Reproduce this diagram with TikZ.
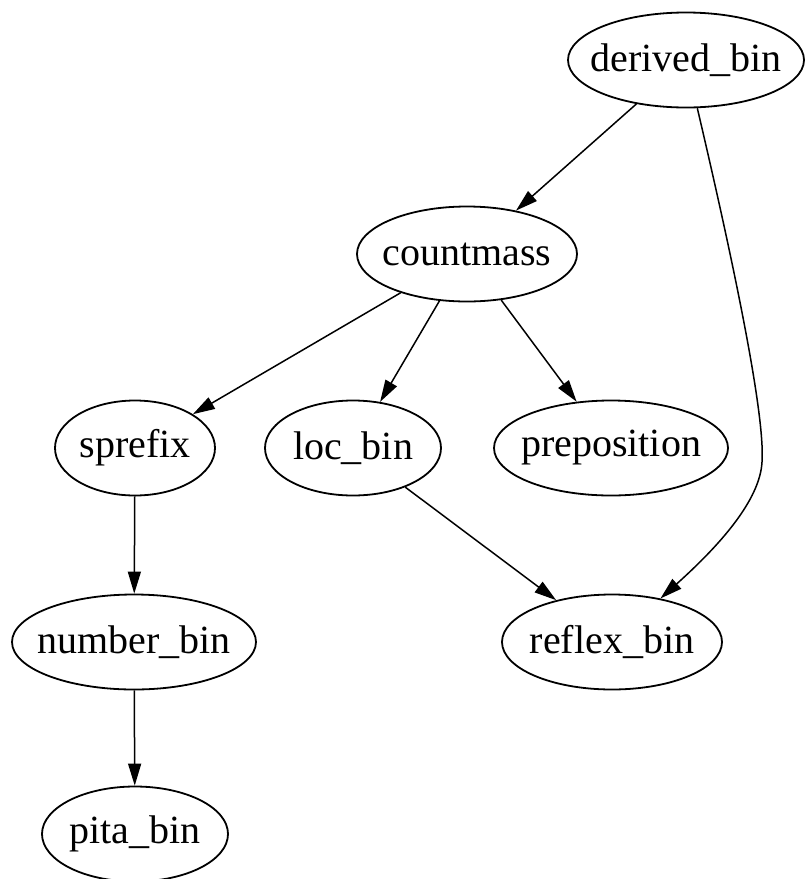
\documentclass[tikz,border=0pt]{standalone}
\usepackage{fontspec}
\setmainfont{Liberation Serif}
\usetikzlibrary{shapes.geometric,arrows.meta}
% label boxed to zero width so the ellipse size is set by minimum width alone
\newcommand\blab[1]{\makebox[0pt]{#1}}
\begin{document}
\begin{tikzpicture}[x=1pt,y=-1pt,
  bin/.style={ellipse,draw,line width=1.8pt,inner sep=0pt,minimum height=95pt,
    font=\fontsize{40}{48}\selectfont},
  dep/.style={line width=1.5pt,-{Triangle[length=22pt,width=13pt]}}]
\useasboundingbox[fill=white] (0,0) rectangle (806,879);

% nodes
\node[bin,minimum width=236pt] (derived) at (686,60)  {\blab{derived\_bin}};
\node[bin,minimum width=220pt] (count)   at (467,254) {\blab{countmass}};
\node[bin,minimum width=160pt] (sprefix) at (135,448) {\blab{sprefix}};
\node[bin,minimum width=176pt] (loc)     at (353,448) {\blab{loc\_bin}};
\node[bin,minimum width=234pt] (prep)    at (611,448) {\blab{preposition}};
\node[bin,minimum width=244pt] (number)  at (134,642) {\blab{number\_bin}};
\node[bin,minimum width=220pt] (reflex)  at (612,642) {\blab{reflex\_bin}};
\node[bin,minimum width=186pt] (pita)    at (135,834) {\blab{pita\_bin}};

\coordinate (bend) at (762,462);

% edges
\draw[dep] (derived) -- (count);
\draw[dep] (count) -- (sprefix);
\draw[dep] (count) -- (loc);
\draw[dep] (count) -- (prep);
\draw[dep] (sprefix) -- (number);
\draw[dep] (number) -- (pita);
\draw[dep] (loc) -- (reflex);
\draw[dep] (derived) .. controls (740,290) and (765,420) .. (bend)
                     .. controls (760,500) and (720,545) .. (reflex);
\end{tikzpicture}
\end{document}
